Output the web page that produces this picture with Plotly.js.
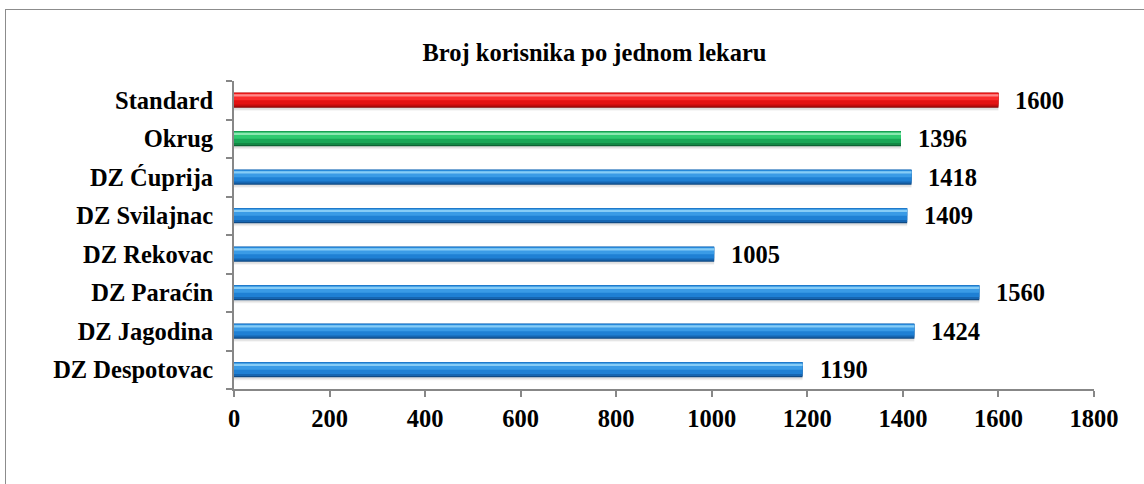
<!DOCTYPE html>
<html>
<head>
<meta charset="utf-8">
<script src="https://cdn.plot.ly/plotly-3.0.1.min.js"></script>
<style>
  html, body { margin: 0; padding: 0; background: #ffffff; overflow: hidden; width: 1144px; height: 484px; }
  #wrap { position: relative; width: 1144px; height: 484px; overflow: hidden; }
  #chart { position: absolute; left: 0; top: 0; width: 1144px; height: 484px; }
  #frame { position: absolute; left: 5px; top: 9px; width: 1400px; height: 800px;
           border-left: 1.5px solid #8c8c8c; border-top: 1.5px solid #8c8c8c; pointer-events: none; }
</style>
</head>
<body>
<div id="wrap">
  <div id="chart"></div>
  <div id="frame"></div>
</div>
<script>
// ---- data (bottom to top) ----
const categories = ['DZ Despotovac', 'DZ Jagodina', 'DZ Paraćin', 'DZ Rekovac', 'DZ Svilajnac', 'DZ Ćuprija', 'Okrug', 'Standard'];
const values = [1190, 1424, 1560, 1005, 1409, 1418, 1396, 1600];
const chartTitle = 'Broj korisnika po jednom lekaru';
const xTickValues = [0, 200, 400, 600, 800, 1000, 1200, 1400, 1600, 1800];

// ---- styles ----
const PALETTE = {
  blue:  { bottom: '#0f4a85', lower: '#1666b2', mid: '#1f80d4', upper: '#3a9be6', hi: '#86ccf6' },
  green: { bottom: '#0c6232', lower: '#128844', mid: '#19a656', upper: '#2fca70', hi: '#8ae8b0' },
  red:   { bottom: '#8a0707', lower: '#c20c0c', mid: '#e31212', upper: '#fb2b2b', hi: '#ff8a8a' }
};
function familyOf(cat) {
  if (cat === 'Standard') return PALETTE.red;
  if (cat === 'Okrug') return PALETTE.green;
  return PALETTE.blue;
}
const FONT = { family: 'Liberation Serif', size: 24.5, color: '#000000', weight: 700 };

function layer(shade, offset, width, fixedColor) {
  return {
    type: 'bar', orientation: 'h',
    x: values, y: categories,
    offset: offset, width: width,
    marker: {
      color: fixedColor ? categories.map(() => fixedColor) : categories.map(c => familyOf(c)[shade]),
      line: { width: 0 }
    },
    hoverinfo: 'skip', showlegend: false
  };
}

const traces = [
  layer(null, -0.27, 0.12, 'rgba(0,0,0,0.05)'),
  layer(null, -0.245, 0.12, 'rgba(0,0,0,0.07)'),
  layer('bottom', -0.195, 0.39),
  layer('lower', -0.16, 0.355),
  layer('mid', -0.11, 0.305),
  layer('upper', 0.0, 0.17),
  layer('hi', 0.095, 0.06)
];

// plot area: x 234..1094, y 81..389
const L = 234, R = 1144 - 1094, T = 81, B = 484 - 389;
const PW = 1144 - L - R;
const px2x = p => (p - L) / PW;

const annotations = categories.map((c, i) => ({
  x: values[i], y: c, xref: 'x', yref: 'y',
  text: String(values[i]), showarrow: false,
  xanchor: 'left', yanchor: 'middle', xshift: 15,
  font: FONT
}));

const layout = {
  width: 1144, height: 484,
  margin: { l: L, r: R, t: T, b: B, pad: 0 },
  paper_bgcolor: 'rgba(0,0,0,0)', plot_bgcolor: 'rgba(0,0,0,0)',
  barmode: 'overlay',
  showlegend: false,
  font: FONT,
  title: {
    text: chartTitle,
    font: FONT,
    xref: 'paper', x: px2x(594.5), xanchor: 'center',
    yref: 'container', y: 1 - 52 / 484, yanchor: 'middle'
  },
  xaxis: {
    range: [0, 1800],
    tickvals: xTickValues,
    ticktext: xTickValues.map(String),
    ticks: 'outside', ticklen: 6, tickwidth: 2, tickcolor: '#878787',
    showline: true, linecolor: '#878787', linewidth: 2,
    showgrid: false, zeroline: false,
    tickfont: FONT,
    ticklabelstandoff: 1
  },
  yaxis: {
    type: 'category',
    categoryorder: 'array', categoryarray: categories,
    range: [-0.5, categories.length - 0.5],
    tickson: 'boundaries',
    ticks: 'outside', ticklen: 6, tickwidth: 2, tickcolor: '#878787',
    showline: true, linecolor: '#878787', linewidth: 2,
    showgrid: false, zeroline: false,
    tickfont: FONT,
    ticklabelstandoff: 14
  },
  annotations: annotations
};

Plotly.newPlot('chart', traces, layout, { displayModeBar: false, staticPlot: true });
</script>
</body>
</html>
